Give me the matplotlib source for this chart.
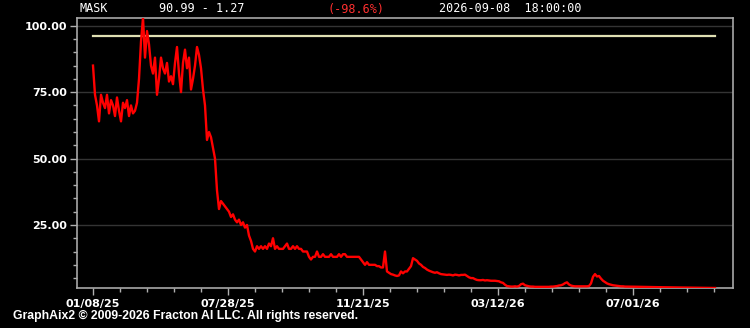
import numpy as np
import matplotlib
matplotlib.use("Agg")
import matplotlib.pyplot as plt

symbol = "MASK"
header_range = "90.99 - 1.27"
header_change = "(-98.6%)"
header_time = "2026-09-08  18:00:00"
copyright_text = "GraphAix2 \u00a9 2009-2026 Fracton AI LLC. All rights reserved."

tick_labels = ["01/08/25", "07/28/25", "11/21/25", "03/12/26", "07/01/26"]
ytick_values = [25, 50, 75, 100]
reference_level = 96.3

prices = [
    # early range
    85, 74, 70, 64, 74, 71, 69, 74, 67, 72, 70, 66, 73, 68, 64, 71, 69, 72, 66, 70,
    67, 68, 71, 80, 94,
    # spike region
    103, 88, 98, 93, 85, 82, 88, 74, 80, 88, 84, 82, 86, 79, 81, 78, 86, 92, 82, 75,
    86, 91, 84, 88, 76, 80, 85, 92, 89, 84, 76, 70, 57,
    # collapse
    60, 58, 54, 50, 38, 31, 34, 33, 32, 31, 30, 28, 29, 27, 26, 27, 25, 26, 24, 25,
    21, 19, 16, 15, 17, 16,
    # drift
    17, 16, 17, 16, 18, 17, 20, 16, 17, 16, 16, 16, 17, 18, 16, 16, 17, 16, 17, 16,
    16, 15, 15, 15, 13, 12, 13, 13, 15, 13, 13, 14, 13, 13, 13, 14, 13, 13, 13, 14,
    13, 14, 14, 13, 13, 13, 13, 13, 13, 13, 12, 11, 10, 11, 10, 10,
    # lower drift with spikes
    10, 10, 9.5, 9.5, 9, 9, 15, 7.5, 7, 6.5, 6.3, 6, 5.8, 6, 7.5, 6.8, 7.5, 7.5, 8.5, 9.5,
    12.5, 12, 11.5, 10.5, 10, 9.2, 8.8, 8.2, 7.8, 7.5, 7.2, 7, 7.2, 6.8, 6.5, 6.4, 6.3, 6.2, 6.3, 6.2,
    6, 6.3, 6.2, 6, 6.2, 6.2, 6.3, 5.8, 5.3, 5, 5, 4.6, 4.3, 4.2, 4.2, 4.3, 4.1, 4.2,
    # floor
    4.1, 4, 4, 4, 3.9, 3.8, 3.4, 3.2, 2.5, 2, 1.9, 1.8, 1.8, 1.9, 1.8, 2, 2.7, 2.9, 2.3, 2.1,
    1.9, 1.8, 1.8, 1.7, 1.7, 1.7, 1.7, 1.7, 1.7, 1.7, 1.7, 1.8, 1.8, 1.9, 2, 2.2, 2.3, 2.6, 3.1, 3.4,
    2.6, 2.2, 2, 1.9, 1.9, 1.9, 1.9, 1.9, 1.9, 1.9, 2, 3, 5.5, 6.5, 5.6, 5.8,
    # tail
    4.8, 4, 3.5, 3, 2.7, 2.5, 2.3, 2.2, 2.1, 2, 1.9, 1.9, 1.8, 1.8,
    1.8, 1.78, 1.76, 1.75, 1.74, 1.72, 1.7, 1.7, 1.68, 1.66, 1.65, 1.64, 1.62, 1.6, 1.6, 1.58,
    1.57, 1.55, 1.55, 1.53, 1.52, 1.5, 1.5, 1.48, 1.47, 1.46, 1.45, 1.44, 1.43, 1.42, 1.41, 1.4,
    1.39, 1.38, 1.37, 1.36, 1.35, 1.34, 1.32, 1.31, 1.3, 1.29, 1.28, 1.27,
]

x = np.arange(len(prices))

W, H = 750, 328
fig = plt.figure(figsize=(W / 100, H / 100), dpi=100, facecolor="black")
left, right, top, bottom = 77, 733, 17.5, 288
ax = fig.add_axes([left / W, 1 - bottom / H, (right - left) / W, (bottom - top) / H])
ax.set_facecolor("black")

ax.plot(x, prices, color="#ff0000", lw=1.7, solid_joinstyle="round", zorder=3)
ax.plot([x[0], x[-1]], [reference_level, reference_level], color="#e0e0b4", lw=1.6, zorder=2)

ax.set_xlim(-8, 320)
ax.set_ylim(1.27, 103.1)

major_step = 67.5
ax.set_xticks([i * major_step for i in range(len(tick_labels))])
ax.set_xticklabels(tick_labels)
ax.set_xticks(np.arange(0, 320, major_step / 5), minor=True)
ax.set_yticks(ytick_values)
ax.set_yticklabels([f"{v:.2f}" for v in ytick_values])
ax.set_yticks(np.arange(5, 103, 5), minor=True)

for lab in ax.get_xticklabels() + ax.get_yticklabels():
    lab.set_fontweight("bold")
    lab.set_fontsize(8)
    lab.set_color("white")

ax.tick_params(axis="both", which="major", length=5, width=1, color="#b0b0b0", pad=2)
ax.tick_params(axis="both", which="minor", length=3, width=1, color="#b0b0b0")
ax.tick_params(axis="x", which="major", pad=3)

ax.grid(axis="y", which="major", color="#343434", lw=1)
ax.set_axisbelow(True)
for s in ax.spines.values():
    s.set_color("#a8a8a8")
    s.set_linewidth(1.2)

mono = dict(family="DejaVu Sans Mono", fontsize=8.5, va="center", ha="left")
fig.text(79 / W, 1 - 9 / H, symbol, color="white", **mono)
fig.text(159 / W, 1 - 9 / H, header_range, color="white", **mono)
fig.text(327 / W, 1 - 9 / H, header_change, color="#ff3030", **mono)
fig.text(439 / W, 1 - 9 / H, header_time, color="white", **mono)

fig.text(13 / W, 1 - 316 / H, copyright_text, color="white", fontsize=8.8,
         fontweight="bold", family="Liberation Sans", va="center", ha="left")

fig.savefig("out.png", dpi=100, facecolor="black")
